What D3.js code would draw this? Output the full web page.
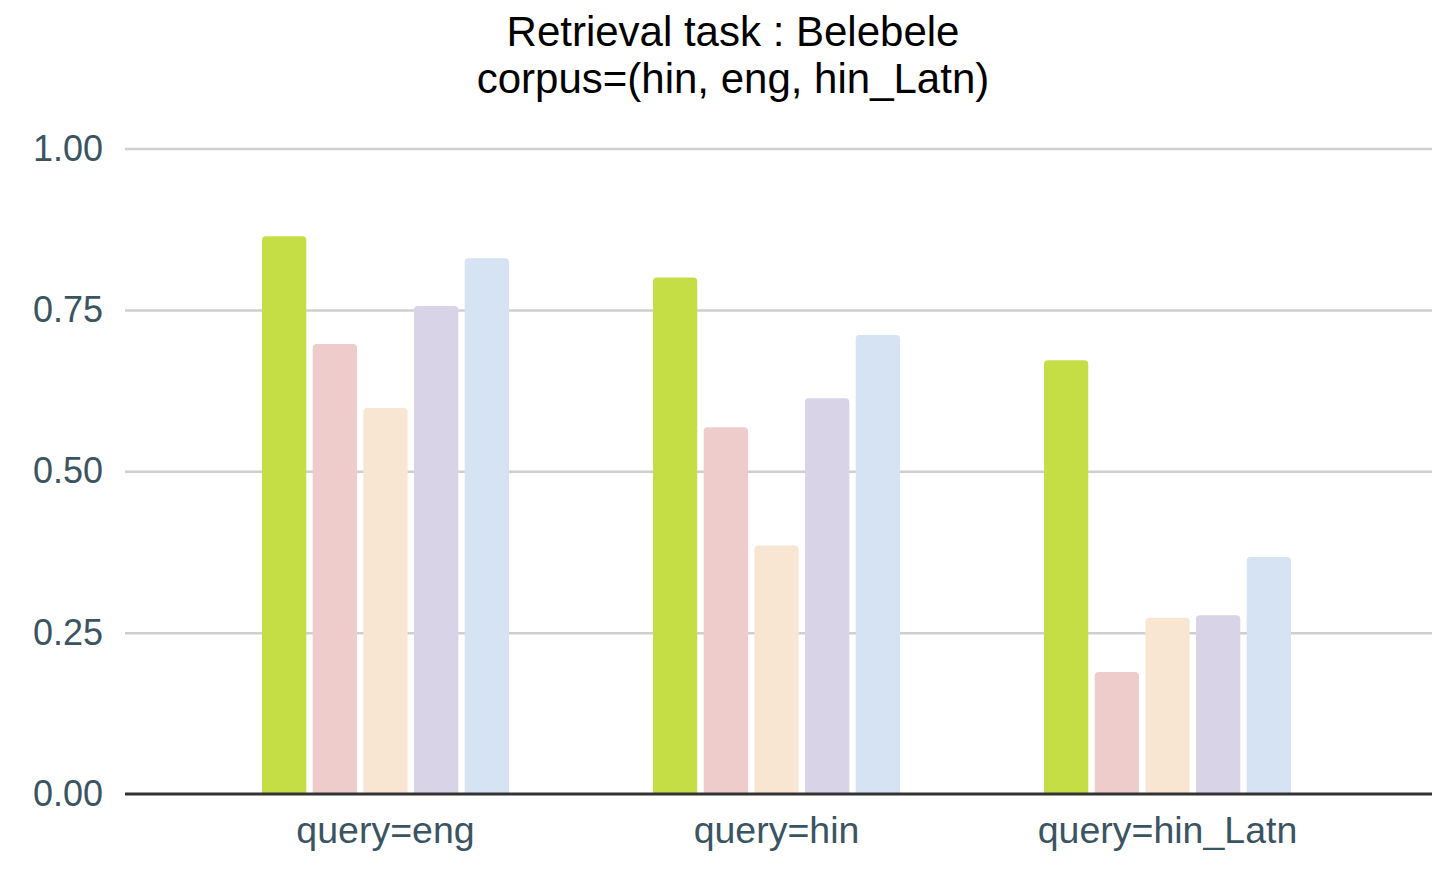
<!DOCTYPE html>
<html>
<head>
<meta charset="utf-8">
<script src="https://cdn.jsdelivr.net/npm/d3@7"></script>
<style>
  body { margin: 0; background: #fff; }
  svg { display: block; }
</style>
</head>
<body>
<svg id="chart" width="1454" height="876"></svg>
<script>
// data
const groups = ['query=eng', 'query=hin', 'query=hin_Latn']
const series = ['s1', 's2', 's3', 's4', 's5']
const colors = ['#c6de46', '#eecccb', '#f8e6d2', '#d8d3e7', '#d5e3f2']
const values = [
  [0.864, 0.697, 0.598, 0.756, 0.830],
  [0.800, 0.568, 0.385, 0.613, 0.711],
  [0.672, 0.189, 0.273, 0.277, 0.367]
]
const yTicks = [0, 0.25, 0.5, 0.75, 1.0]
const titleLines = ['Retrieval task : Belebele', 'corpus=(hin, eng, hin_Latn)']

const svg = d3.select('#chart')
const font = '"Liberation Sans", Arial, Helvetica, sans-serif'
const textColor = '#3b5462'

let plot = {left: 125, right: 1432, top: 148.5, bottom: 794}

let y = d3.scaleLinear()
  .domain([0, 1])
  .range([plot.bottom, plot.top])

let x0 = d3.scaleBand()
  .domain(groups)
  .range([190, 1363])

let x1 = d3.scaleBand()
  .domain(series)
  .range([0, 247])
  .paddingInner(0.126)

// title
svg.append('g')
  .selectAll('text')
  .data(titleLines)
  .enter()
  .append('text')
  .text(d => d)
  .attr('x', 733)
  .attr('y', (d, i) => 46 + i * 47)
  .attr('text-anchor', 'middle')
  .style('font-family', font)
  .style('font-size', '42px')
  .attr('fill', '#000')

// y axis with gridlines
let yAxis = svg.append('g')
  .attr('transform', 'translate(' + plot.left + ',0)')
  .call(d3.axisLeft(y)
    .tickValues(yTicks)
    .tickFormat(d3.format('.2f'))
    .tickSize(-(plot.right - plot.left))
    .tickPadding(22))
yAxis.select('.domain').remove()
yAxis.selectAll('.tick line')
  .attr('stroke', d => d === 0 ? 'none' : '#cfcfcf')
  .attr('stroke-width', 2.5)
yAxis.selectAll('.tick text')
  .style('font-family', font)
  .style('font-size', '36px')
  .attr('fill', textColor)

// bars
let radius = 4
let gBars = svg.append('g')
  .selectAll('g')
  .data(groups)
  .enter()
  .append('g')
  .attr('transform', d => 'translate(' + (x0(d) + (x0.bandwidth() - 247) / 2) + ',0)')

gBars.selectAll('path')
  .data((d, i) => values[i].map((v, j) => ({s: series[j], v: v, c: colors[j]})))
  .enter()
  .append('path')
  .attr('d', function (d) {
    let x = x1(d.s)
    let w = x1.bandwidth()
    let top = y(d.v)
    let bot = y(0)
    return 'M' + x + ',' + bot +
      'V' + (top + radius) +
      'Q' + x + ',' + top + ' ' + (x + radius) + ',' + top +
      'H' + (x + w - radius) +
      'Q' + (x + w) + ',' + top + ' ' + (x + w) + ',' + (top + radius) +
      'V' + bot + 'Z'
  })
  .attr('fill', d => d.c)

// baseline
svg.append('line')
  .attr('x1', plot.left)
  .attr('x2', plot.right)
  .attr('y1', y(0))
  .attr('y2', y(0))
  .attr('stroke', '#333')
  .attr('stroke-width', 3)

// x axis labels
let xAxis = svg.append('g')
  .attr('transform', 'translate(0,' + y(0) + ')')
  .call(d3.axisBottom(x0).tickSize(0).tickPadding(22))
xAxis.select('.domain').remove()
xAxis.selectAll('.tick text')
  .style('font-family', font)
  .style('font-size', '37.5px')
  .attr('fill', textColor)
</script>
</body>
</html>
